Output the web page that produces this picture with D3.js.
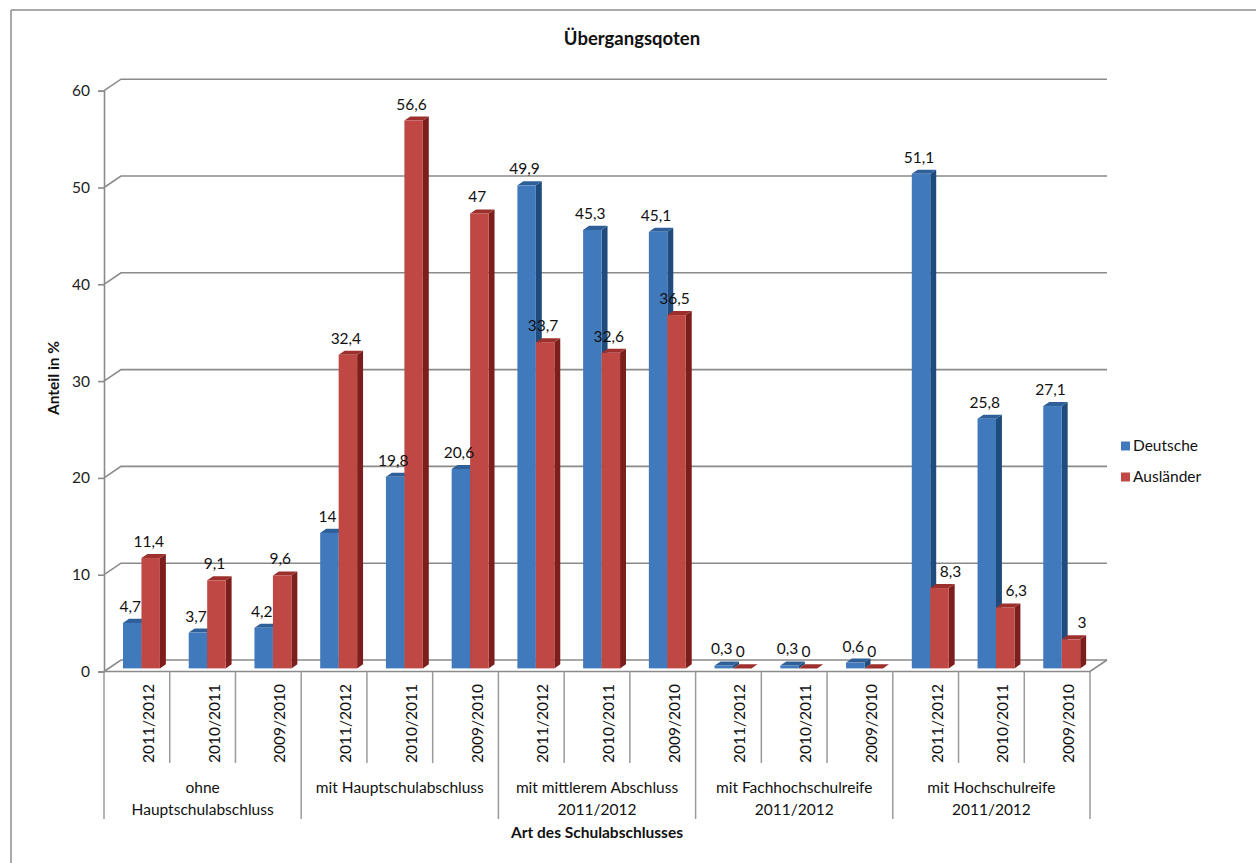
<!DOCTYPE html>
<html>
<head>
<meta charset="utf-8">
<script src="https://cdn.jsdelivr.net/npm/d3@7"></script>
<style>
  html, body { margin: 0; padding: 0; background: #fff; }
  svg { display: block; font-family: Lato, "Open Sans", sans-serif; }
</style>
</head>
<body>
<svg id="chart" width="1256" height="863"></svg>
<script>
// Transition rates by school leaving certificate and school year
const groups = [
  ["ohne", "Hauptschulabschluss"],
  ["mit Hauptschulabschluss"],
  ["mit mittlerem Abschluss", "2011/2012"],
  ["mit Fachhochschulreife", "2011/2012"],
  ["mit Hochschulreife", "2011/2012"]
];
const years = ["2011/2012", "2010/2011", "2009/2010"];
const seriesNames = ["Deutsche", "Ausländer"];
const deutsche   = [4.7, 3.7, 4.2, 14, 19.8, 20.6, 49.9, 45.3, 45.1, 0.3, 0.3, 0.6, 51.1, 25.8, 27.1];
const auslaender = [11.4, 9.1, 9.6, 32.4, 56.6, 47, 33.7, 32.6, 36.5, 0, 0, 0, 8.3, 6.3, 3];
const yTicks = [0, 10, 20, 30, 40, 50, 60];

const svg = d3.select("#chart");

// pseudo-3D geometry: depth vector from the front plane to the back wall
const depth = { dx: 17, dy: -11.5 };
const barFront = 0.27, barBack = 0.62;   // bar slab position within the depth

// one slot per (group, year) pair
const slots = d3.range(groups.length * years.length);
const x = d3.scaleBand().domain(slots).range([104, 1090]);
const xs = d3.scaleBand().domain(seriesNames).range([0, x.bandwidth()])
  .paddingInner(0).paddingOuter(0.78);
const y = d3.scaleLinear().domain([0, 60]).range([671.5, 90.7]);

const colors = {
  "Deutsche":  { front: "#4179bd", top: "#2f5f99", side: "#1f4c7c" },
  "Ausländer": { front: "#bf4845", top: "#9c302d", side: "#7c1f1c" }
};
const gridColor = "#8a8a8a";

// outer frame of the chart area
svg.append("line").attr("x1", 11).attr("x2", 11).attr("y1", 10).attr("y2", 863)
  .attr("stroke", "#8c8c8c").attr("stroke-width", 1.5);
svg.append("line").attr("x1", 11).attr("x2", 1256).attr("y1", 10).attr("y2", 10)
  .attr("stroke", "#8c8c8c").attr("stroke-width", 1.5);

// title
svg.append("text").attr("x", 632).attr("y", 45).attr("text-anchor", "middle")
  .attr("font-size", 18.5).attr("font-weight", "bold").attr("fill", "#111")
  .text("Übergangsqoten");

const x0 = x.range()[0], x1 = x.range()[1];

// back wall gridlines and side wall connectors
const walls = svg.append("g").attr("fill", "none").attr("stroke", gridColor).attr("stroke-width", 1.6);
yTicks.forEach(v => {
  const yy = y(v);
  walls.append("path").attr("d",
    `M${x0},${yy} L${x0 + depth.dx},${yy + depth.dy} L${x1 + depth.dx},${yy + depth.dy}`);
});
// floor front edge and right edge
walls.append("path").attr("d",
  `M${x0},${y(0)} L${x1},${y(0)} L${x1 + depth.dx},${y(0) + depth.dy}`);

// front value axis
const yAxis = d3.axisLeft(y).tickValues(yTicks).tickSize(6).tickPadding(8)
  .tickFormat(d => String(d));
const gy = svg.append("g").attr("transform", `translate(${x0},0)`).call(yAxis);
gy.select(".domain").attr("stroke", gridColor).attr("stroke-width", 1.6);
gy.selectAll(".tick line").attr("stroke", gridColor).attr("stroke-width", 1.6);
gy.selectAll(".tick text").attr("font-size", 15.5).attr("font-family", "Lato, sans-serif")
  .attr("fill", "#222");

// y axis title
svg.append("text")
  .attr("transform", `translate(59,378) rotate(-90)`)
  .attr("text-anchor", "middle").attr("font-size", 15.5).attr("font-weight", "bold")
  .attr("fill", "#111").text("Anteil in %");

// bars
const rows = slots.map(i => ({ i, vals: [deutsche[i], auslaender[i]] }));
const barsG = svg.append("g");
rows.forEach(r => {
  seriesNames.forEach((s, k) => {
    const v = r.vals[k];
    const c = colors[s];
    const fx = x(r.i) + xs(s) + depth.dx * barFront;
    const w = xs.bandwidth();
    const yb = y(0) + depth.dy * barFront;
    const yt = y(v) + depth.dy * barFront;
    const ddx = depth.dx * (barBack - barFront), ddy = depth.dy * (barBack - barFront);
    const g = barsG.append("g");
    // side face
    g.append("path").attr("fill", c.side).attr("d",
      `M${fx + w},${yb} L${fx + w + ddx},${yb + ddy} L${fx + w + ddx},${yt + ddy} L${fx + w},${yt} Z`);
    // top face
    g.append("path").attr("fill", c.top).attr("d",
      `M${fx},${yt} L${fx + ddx},${yt + ddy} L${fx + w + ddx},${yt + ddy} L${fx + w},${yt} Z`);
    // front face
    if (yb - yt > 0) {
      g.append("rect").attr("x", fx).attr("y", yt).attr("width", w).attr("height", yb - yt)
        .attr("fill", c.front);
    }
  });
});

// value labels (a low bar next to a much taller one gets its label nudged right)
const fmt = v => String(v).replace(".", ",");
const labelsG = svg.append("g").attr("font-size", 15.5).attr("fill", "#111").attr("text-anchor", "middle");
rows.forEach(r => {
  seriesNames.forEach((s, k) => {
    const v = r.vals[k];
    const other = r.vals[0];
    const nudge = (k === 1 && v > 0 && other > 3 * v) ? 13 : 0;
    const cx = x(r.i) + xs(s) + xs.bandwidth() / 2 + depth.dx * barFront - 2 + nudge;
    const yt = y(v) + depth.dy * barFront;
    labelsG.append("text").attr("x", cx).attr("y", yt - 11).text(fmt(v));
  });
});

// category axis: year rows and group rows
const catG = svg.append("g").attr("stroke", "#9a9a9a").attr("stroke-width", 1.5);
slots.forEach(i => {
  const isGroupEdge = i % years.length === 0;
  catG.append("line").attr("x1", x(i)).attr("x2", x(i))
    .attr("y1", y(0)).attr("y2", isGroupEdge ? 819 : 763);
});
catG.append("line").attr("x1", x1).attr("x2", x1).attr("y1", y(0)).attr("y2", 819);

const yearG = svg.append("g").attr("font-size", 15.5).attr("fill", "#111");
slots.forEach(i => {
  const cx = x(i) + x.bandwidth() / 2 + 11.5;
  yearG.append("text")
    .attr("transform", `translate(${cx + 5.5},723.5) rotate(-90)`)
    .attr("text-anchor", "middle")
    .text(years[i % years.length]);
});

const groupG = svg.append("g").attr("font-size", 15.5).attr("fill", "#111").attr("text-anchor", "middle");
groups.forEach((lines, gi) => {
  const gx = (x(gi * years.length) + (gi === groups.length - 1 ? x1 : x((gi + 1) * years.length))) / 2;
  lines.forEach((t, li) => {
    groupG.append("text").attr("x", gx).attr("y", 793 + li * 21.5).text(t);
  });
});

// x axis title
svg.append("text").attr("x", 597).attr("y", 838).attr("text-anchor", "middle")
  .attr("font-size", 15.5).attr("font-weight", "bold").attr("fill", "#111")
  .text("Art des Schulabschlusses");

// legend
const legend = svg.append("g").attr("transform", "translate(1121,440)");
seriesNames.forEach((s, k) => {
  const row = legend.append("g").attr("transform", `translate(0,${k * 31})`);
  row.append("rect").attr("width", 9).attr("height", 9).attr("y", 1.5).attr("fill", colors[s].front);
  row.append("text").attr("x", 12).attr("y", 11).attr("font-size", 15.5).attr("fill", "#111").text(s);
});
</script>
</body>
</html>
